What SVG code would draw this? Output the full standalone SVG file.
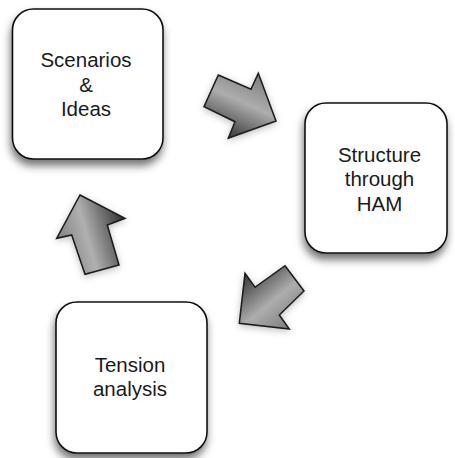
<svg xmlns="http://www.w3.org/2000/svg" width="455" height="458" viewBox="0 0 455 458">
  <defs>
    <style>
      .box { fill: #ffffff; stroke: #111111; stroke-width: 1.6; filter: url(#boxShadow); }
      .label { font-family: "Liberation Sans", Arial, Helvetica, sans-serif; font-size: 20.5px; fill: #1a1a1a; text-anchor: middle; }
      .arrow { stroke: #1a1a1a; stroke-width: 1.5; stroke-linejoin: miter; filter: url(#arrowShadow); }
    </style>
    <filter id="boxShadow" x="-20%" y="-20%" width="140%" height="145%">
      <feDropShadow dx="-1" dy="6" stdDeviation="4" flood-color="#000000" flood-opacity="0.55"/>
    </filter>
    <filter id="arrowShadow" x="-30%" y="-30%" width="160%" height="160%">
      <feDropShadow dx="0" dy="2" stdDeviation="3.5" flood-color="#000000" flood-opacity="0.25"/>
    </filter>
    <!-- shading runs across each arrow: mid grey on one side, highlight, dark on the other -->
    <linearGradient id="shadeA" gradientUnits="userSpaceOnUse" x1="255" y1="72" x2="225" y2="138">
      <stop offset="0" stop-color="#7c7c7c"/>
      <stop offset="0.45" stop-color="#adadad"/>
      <stop offset="1" stop-color="#333333"/>
    </linearGradient>
    <linearGradient id="shadeB" gradientUnits="userSpaceOnUse" x1="295" y1="325" x2="249" y2="269">
      <stop offset="0" stop-color="#7c7c7c"/>
      <stop offset="0.45" stop-color="#adadad"/>
      <stop offset="1" stop-color="#333333"/>
    </linearGradient>
    <linearGradient id="shadeC" gradientUnits="userSpaceOnUse" x1="57" y1="250" x2="127" y2="230">
      <stop offset="0" stop-color="#7c7c7c"/>
      <stop offset="0.45" stop-color="#b0b0b0"/>
      <stop offset="1" stop-color="#333333"/>
    </linearGradient>
  </defs>

  <rect width="455" height="458" fill="#ffffff"/>

  <!-- cycle arrows -->
  <g id="connectors">
    <polygon class="arrow" fill="url(#shadeA)" points="218.3,75 251,89.3 258.3,73.3 276,121 228.3,138.3 235,121.7 204,106.7"/>
    <polygon class="arrow" fill="url(#shadeB)" points="285,265.7 304,291 279.3,315 289.3,329 239.3,323.3 245,273.3 255,287.3"/>
    <polygon class="arrow" fill="url(#shadeC)" points="80,195 125,218.3 107.3,225 119,265 85,274.3 71.7,235 56.7,238.3"/>
  </g>

  <g id="scenarios">
    <rect class="box" x="12.5" y="9" width="150.5" height="150" rx="21" ry="21"/>
    <text class="label" x="86" y="67">Scenarios</text>
    <text class="label" x="86" y="91.5">&amp;</text>
    <text class="label" x="86" y="116">Ideas</text>
  </g>

  <g id="structure">
    <rect class="box" x="305" y="103" width="142" height="150" rx="21" ry="21"/>
    <text class="label" x="379.5" y="161.5">Structure</text>
    <text class="label" x="379.5" y="186">through</text>
    <text class="label" x="379.5" y="210.5">HAM</text>
  </g>

  <g id="tension">
    <rect class="box" x="56" y="302" width="151" height="151" rx="21" ry="21"/>
    <text class="label" x="130" y="371.5">Tension</text>
    <text class="label" x="130" y="395.5">analysis</text>
  </g>
</svg>
